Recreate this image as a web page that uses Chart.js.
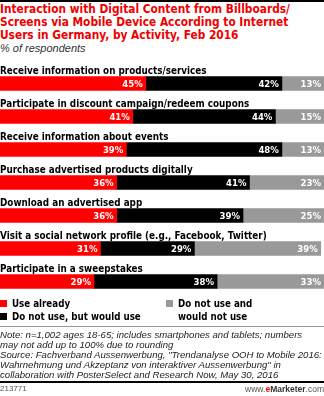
<!DOCTYPE html>
<html>
<head>
<meta charset="utf-8">
<script src="https://cdn.jsdelivr.net/npm/chart.js@4.4.1/dist/chart.umd.min.js"></script>
<style>
  html, body { margin: 0; padding: 0; background: #fff; }
  #wrap { position: relative; width: 324px; height: 396px; overflow: hidden; font-family: "DejaVu Sans", Verdana, sans-serif; }
  .rule-top { position: absolute; left: 0; top: 0; width: 324px; height: 2px; background: #000; }
  #title { position: absolute; left: 0; top: 3px; width: 324px; color: #ee0000; font-weight: bold; font-size: 11.8px; line-height: 13px; font-family: "DejaVu Sans Condensed", "DejaVu Sans", sans-serif; font-stretch: condensed; white-space: nowrap; }
  #subtitle { position: absolute; left: 0; top: 42px; font-style: italic; font-size: 11px; color: #333; font-family: "Liberation Sans", Arial, sans-serif; }
  #chartBox { position: absolute; left: 0; top: 55px; width: 324px; height: 245px; }
  #legend { position: absolute; left: 0; top: 297px; width: 324px; height: 28px; font-weight: bold; font-size: 9.7px; font-family: "DejaVu Sans Condensed", "DejaVu Sans", sans-serif; font-stretch: condensed; }
  .lg { position: absolute; line-height: 13px; white-space: nowrap; }
  .lg i { position: absolute; left: 0; top: 3px; width: 7px; height: 7px; }
  .lg span { display: block; padding-left: 12px; }
  .rule-mid { position: absolute; left: 0; top: 326px; width: 324px; height: 1px; background: #999; }
  #notes { position: absolute; left: 0; top: 330px; width: 324px; font-style: italic; font-size: 9.6px; line-height: 10px; color: #222; font-family: "Liberation Sans", Arial, sans-serif; white-space: nowrap; }
  .rule-bot { position: absolute; left: 0; top: 381px; width: 324px; height: 2px; background: #000; }
  #footId { position: absolute; left: 0; top: 384px; font-size: 8px; color: #555; font-family: "Liberation Sans", Arial, sans-serif; }
  #footSite { position: absolute; right: 0; top: 384px; font-size: 8.5px; color: #555; font-family: "Liberation Sans", Arial, sans-serif; }
  #footSite b { color: #e00; }
  #footSite strong { color: #333; }
</style>
</head>
<body>
<div id="wrap">
  <div class="rule-top"></div>
  <div id="title">Interaction with Digital Content from Billboards/<br>Screens via Mobile Device According to Internet<br>Users in Germany, by Activity, Feb 2016</div>
  <div id="subtitle">% of respondents</div>
  <div id="chartBox"><canvas id="activityChart"></canvas></div>
  <div id="legend"></div>
  <div class="rule-mid"></div>
  <div id="notes">Note: n=1,002 ages 18-65; includes smartphones and tablets; numbers<br>may not add up to 100% due to rounding<br>Source: Fachverband Aussenwerbung, "Trendanalyse OOH to Mobile 2016:<br>Wahrnehmung und Akzeptanz von interaktiver Aussenwerbung" in<br>collaboration with PosterSelect and Research Now, May 30, 2016</div>
  <div class="rule-bot"></div>
  <div id="footId">213771</div>
  <div id="footSite">www.<b>e</b><strong>Marketer</strong>.com</div>
</div>

<script>
const activities = [
    'Receive information on products/services',
    'Participate in discount campaign/redeem coupons',
    'Receive information about events',
    'Purchase advertised products digitally',
    'Download an advertised app',
    'Visit a social network profile (e.g., Facebook, Twitter)',
    'Participate in a sweepstakes'
];
const useAlready = [45, 41, 39, 36, 36, 31, 29];
const wouldUse = [42, 44, 48, 41, 39, 29, 38];
const wouldNotUse = [13, 15, 13, 23, 25, 39, 33];

const seriesNames = ['Use already', 'Do not use, but would use', 'Do not use and\nwould not use'];
const seriesColors = ['#ff0000', '#000000', '#999999'];

document.addEventListener("DOMContentLoaded", function () {

    // category text sits just above each bar
    const activityLabels = {
        id: 'activityLabels',
        afterDatasetsDraw(chart) {
            const c = chart.ctx;
            const y = chart.scales.y;
            c.save();
            c.fillStyle = '#000';
            c.font = 'bold 9.8px "DejaVu Sans Condensed", "DejaVu Sans", sans-serif';
            c.textAlign = 'left';
            c.textBaseline = 'alphabetic';
            chart.data.labels.forEach((lbl, i) => {
                c.fillText(lbl, 0, y.getPixelForValue(i) - 10);
            });
            c.restore();
        }
    };

    // white % value at the right end of each segment
    const valueLabels = {
        id: 'valueLabels',
        afterDatasetsDraw(chart) {
            const c = chart.ctx;
            c.save();
            c.fillStyle = '#fff';
            c.font = 'bold 9.5px "DejaVu Sans Condensed", "DejaVu Sans", sans-serif';
            c.textAlign = 'right';
            c.textBaseline = 'middle';
            chart.data.datasets.forEach((ds, d) => {
                chart.getDatasetMeta(d).data.forEach((bar, i) => {
                    c.fillText(ds.data[i] + '%', bar.x - 3, bar.y + 1);
                });
            });
            c.restore();
        }
    };

    const ctx = document.getElementById('activityChart').getContext('2d');

    new Chart(ctx, {
        type: 'bar',
        data: {
            labels: activities,
            datasets: [useAlready, wouldUse, wouldNotUse].map((vals, k) => ({
                label: seriesNames[k],
                data: vals,
                backgroundColor: seriesColors[k],
                borderWidth: 0,
                barThickness: 14
            }))
        },
        options: {
            indexAxis: 'y',
            responsive: true,
            maintainAspectRatio: false,
            animation: false,
            layout: { padding: { top: 12, bottom: 2, left: 0, right: 0 } },
            plugins: {
                legend: { display: false },
                tooltip: { enabled: false }
            },
            scales: {
                x: { stacked: true, min: 0, max: 100, display: false },
                y: { stacked: true, display: false }
            }
        },
        plugins: [activityLabels, valueLabels]
    });

    // legend: two entries in the left column, one in the right
    const legend = document.getElementById('legend');
    const spots = [[0, 0], [0, 13], [166, 0]];
    seriesNames.forEach((name, k) => {
        const el = document.createElement('div');
        el.className = 'lg';
        el.style.left = spots[k][0] + 'px';
        el.style.top = spots[k][1] + 'px';
        el.innerHTML = '<i style="background:' + seriesColors[k] + '"></i><span>' + name.replace('\n', '<br>') + '</span>';
        legend.appendChild(el);
    });
});
</script>
</body>
</html>
